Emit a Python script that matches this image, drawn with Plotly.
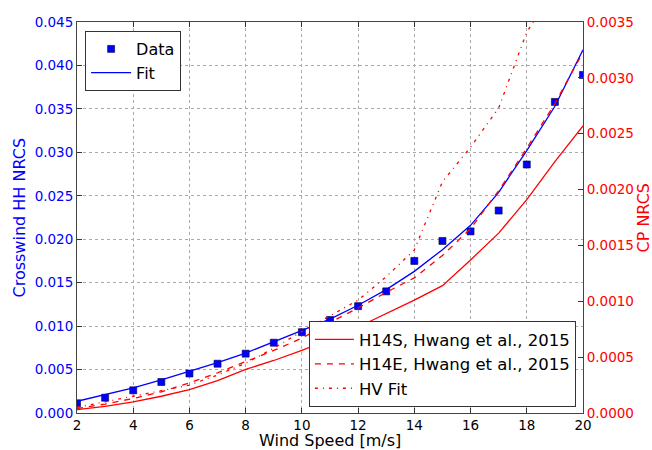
import plotly.graph_objects as go

wind = [2, 3, 4, 5, 6, 7, 8, 9, 10, 11, 12, 13, 14, 15, 16, 17, 18, 19, 20]
data_hh = [0.00112, 0.00176, 0.00261, 0.00357, 0.00455, 0.00567, 0.00683, 0.00809, 0.0093, 0.0107,
           0.0123, 0.0140, 0.0175, 0.0198, 0.0209, 0.0233, 0.0286, 0.0358, 0.0389]
fit_hh = [0.00135, 0.0021, 0.0029, 0.0038, 0.0048, 0.0058, 0.0069, 0.0082, 0.0095, 0.0108,
          0.0124, 0.0142, 0.0163, 0.0188, 0.0216, 0.0254, 0.0302, 0.0353, 0.0418]
h14s = [0.00003, 0.00006, 0.0001, 0.00015, 0.00021, 0.00029, 0.00039, 0.00047, 0.00056, 0.00066,
        0.00077, 0.00089, 0.00101, 0.00114, 0.00137, 0.00161, 0.00191, 0.00225, 0.00257]
h14e = [0.00004, 0.00008, 0.00013, 0.00019, 0.00027, 0.00036, 0.00046, 0.00056, 0.00067, 0.00081,
        0.00094, 0.00108, 0.00121, 0.00141, 0.00165, 0.00199, 0.00237, 0.00277, 0.00323]
hv_fit = [0.00005, 0.0001, 0.000146, 0.0002, 0.00025, 0.00034, 0.000445, 0.00058, 0.00073, 0.00087,
          0.00101, 0.00122, 0.00146, 0.00207, 0.00238, 0.00273, 0.00341, 0.0038, 0.0044]

x_ticks = [2, 4, 6, 8, 10, 12, 14, 16, 18, 20]

x_title = "Wind Speed [m/s]"
y_title = "Crosswind HH NRCS"
y2_title = "CP NRCS"

FONT = "DejaVu Sans"
BLUE = "#0000ff"
RED = "#ff0000"

fig = go.Figure()
fig.add_trace(go.Scatter(x=wind, y=data_hh, mode="markers", name="Data",
                         marker=dict(symbol="square", size=7, color=BLUE,
                                     line=dict(color="#000033", width=0.6)),
                         legend="legend"))
fig.add_trace(go.Scatter(x=wind, y=fit_hh, mode="lines", name="Fit",
                         line=dict(color=BLUE, width=1.3), legend="legend"))
fig.add_trace(go.Scatter(x=wind, y=h14s, mode="lines", name="H14S, Hwang et al., 2015",
                         line=dict(color=RED, width=1.3), yaxis="y2", legend="legend2"))
fig.add_trace(go.Scatter(x=wind, y=h14e, mode="lines", name="H14E, Hwang et al., 2015",
                         line=dict(color=RED, width=1.3, dash="6px,6px"), yaxis="y2", legend="legend2"))
fig.add_trace(go.Scatter(x=wind, y=hv_fit, mode="lines", name="HV Fit",
                         line=dict(color=RED, width=1.3, dash="3px,5px,1px,5px"), yaxis="y2",
                         legend="legend2"))

# Plot area in page pixels: x 77..583, y 22..413 (body margin is removed below).
PL, PR, PT, PB = 77, 583, 22, 413
W, H = PR - PL, PB - PT

def px_x(p):
    return (p - PL) / W

def px_y(p):
    return (PB - p) / H

fig.update_layout(
    template="none",
    width=652, height=450,
    margin=dict(l=77, r=69, t=22, b=37),
    paper_bgcolor="white", plot_bgcolor="white",
    font=dict(family=FONT, size=13.5, color="black"),
    xaxis=dict(range=[2, 20], tickvals=x_ticks, ticks="inside", ticklen=5, tickcolor="#333",
               showline=True, linecolor="#444", linewidth=1, mirror="ticks", automargin=False,
               showgrid=True, gridcolor="#aaaaaa", griddash="dot", gridwidth=1,
               zeroline=False, tickfont=dict(size=13.5, color="black")),
    yaxis=dict(range=[0, 0.045], dtick=0.005, tick0=0, tickformat=".3f", ticks="inside", ticklen=5,
               tickcolor="#333", showline=True, linecolor="#444", linewidth=1, automargin=False,
               showgrid=True, gridcolor="#aaaaaa", griddash="dot", gridwidth=1, zeroline=False,
               tickfont=dict(size=13.5, color=BLUE)),
    yaxis2=dict(range=[0, 0.0035], dtick=0.0005, tick0=0, tickformat=".4f", overlaying="y",
                side="right", ticks="inside", ticklen=5, tickcolor="#333", showline=True,
                linecolor="#444", linewidth=1, showgrid=False, zeroline=False, automargin=False,
                tickfont=dict(size=13.5, color=RED)),
    legend=dict(x=0.016, y=0.977, xanchor="left", yanchor="top", bgcolor="white",
                bordercolor="#333", borderwidth=1, itemwidth=40,
                font=dict(size=16, color="black")),
    legend2=dict(x=0.986, y=0.015, xanchor="right", yanchor="bottom", bgcolor="white",
                 bordercolor="#333", borderwidth=1, itemwidth=39,
                 font=dict(size=16.5, color="black")),
    showlegend=True,
    annotations=[
        dict(text=x_title, xref="paper", yref="paper", x=0.5, y=px_y(440.5),
             xanchor="center", yanchor="middle", showarrow=False,
             font=dict(size=16, color="black")),
        dict(text=y_title, xref="paper", yref="paper", x=px_x(19), y=0.5, textangle=-90,
             xanchor="center", yanchor="middle", showarrow=False,
             font=dict(size=16, color=BLUE)),
        dict(text=y2_title, xref="paper", yref="paper", x=px_x(643), y=0.5, textangle=-90,
             xanchor="center", yanchor="middle", showarrow=False,
             font=dict(size=16, color=RED)),
    ],
)

fig.write_html(
    "out.html",
    config={"displayModeBar": False},
    post_script="document.body.style.margin='0';"
                "document.documentElement.style.overflow='hidden';",
)
